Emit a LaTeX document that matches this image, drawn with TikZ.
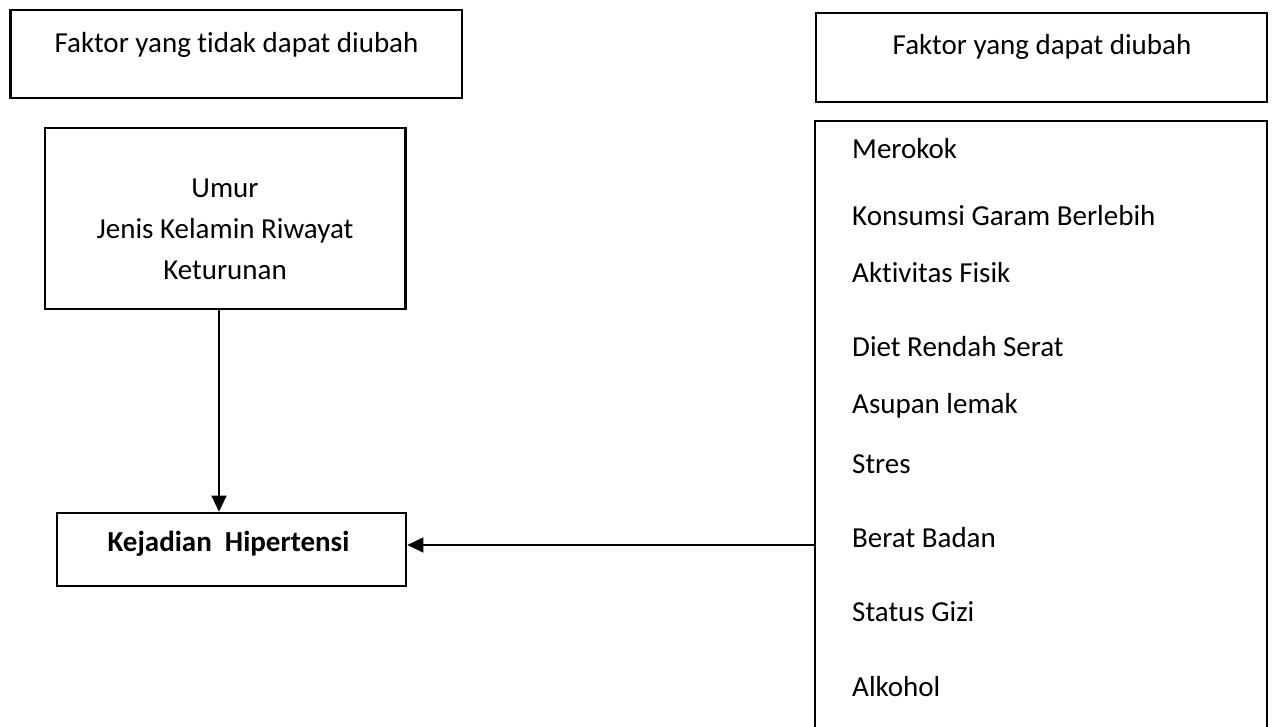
\documentclass[tikz,border=0pt]{standalone}
\usepackage{fontspec}
\setmainfont{Carlito}[Ligatures={NoCommon,NoContextual}]
\usetikzlibrary{arrows.meta}
\begin{document}
\begin{tikzpicture}[x=1pt,y=-1pt,
  box/.style={draw, line width=2.6pt, rectangle, inner sep=0pt},
  lbl/.style={inner sep=0pt, font=\fontsize{29}{35}\selectfont},
  arr/.style={line width=1.2pt, -{Triangle[length=16pt,width=15pt]}}]
\useasboundingbox (0,0) rectangle (1273,726);
\clip (0,0) rectangle (1273,726);
% boxes
\node[box, minimum width=451.5pt, minimum height=88pt] (hdrL) at (236.25,54) {};
\node[box, minimum width=451pt, minimum height=89pt] (hdrR) at (1041.5,57.5) {};
\node[box, minimum width=360.5pt, minimum height=181pt] (umur) at (225.25,218.5) {};
\node[box, minimum width=349pt, minimum height=73pt] (kej) at (231.5,549.5) {};
\node[box, minimum width=452pt, minimum height=639pt] (list) at (1041,440.5) {};
% header texts
\node[lbl, anchor=base] (tL) at (236.5,52) {Faktor yang tidak dapat diubah};
\node[lbl, anchor=base] (tR) at (1042,54) {Faktor yang dapat diubah};
% umur texts
\node[lbl, anchor=base] (u1) at (225,197) {Umur};
\node[lbl, anchor=base] (u2) at (225,238) {Jenis Kelamin Riwayat};
\node[lbl, anchor=base] (u3) at (225,279) {Keturunan};
% kejadian text
\node[lbl, anchor=base, font=\fontsize{29}{35}\selectfont\bfseries] (kt) at (228.5,551) {Kejadian\ \ Hipertensi};
% list texts
\node[lbl, anchor=base west] (l1) at (852,158) {Merokok};
\node[lbl, anchor=base west] (l2) at (852,225) {Konsumsi Garam Berlebih};
\node[lbl, anchor=base west] (l3) at (852,282) {Aktivitas Fisik};
\node[lbl, anchor=base west] (l4) at (852,356) {Diet Rendah Serat};
\node[lbl, anchor=base west] (l5) at (852,413) {Asupan lemak};
\node[lbl, anchor=base west] (l6) at (852,473) {Stres};
\node[lbl, anchor=base west] (l7) at (852,547) {Berat Badan};
\node[lbl, anchor=base west] (l8) at (852,621) {Status Gizi};
\node[lbl, anchor=base west] (l9) at (852,696) {Alkohol};
% connectors
\coordinate (arrx) at (219,0);
\coordinate (arry) at (0,545);
\draw[arr] (umur.south -| arrx) -- (kej.north -| arrx);
\draw[arr] (list.west |- arry) -- (kej.east |- arry);
\end{tikzpicture}
\end{document}
